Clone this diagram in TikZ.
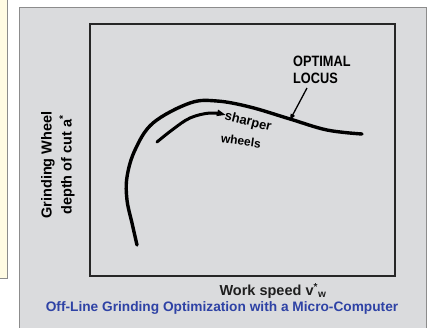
\documentclass[tikz,border=0pt]{standalone}
\usepackage{fontspec}
\setmainfont{Liberation Sans}
\usetikzlibrary{arrows.meta}
\definecolor{panelgray}{HTML}{DADBDD}
\definecolor{paneledge}{HTML}{8C8C8C}
\definecolor{notepad}{HTML}{FFFBE3}
\definecolor{captionblue}{HTML}{2E42A5}
\begin{document}
\begin{tikzpicture}[x=1pt,y=-1pt,
  axislabel/.style={font=\bfseries\fontsize{14.5}{17}\selectfont, inner sep=0pt},
  handtext/.style={font=\bfseries\fontsize{13}{15}\selectfont, inner sep=0pt},
  curve/.style={line width=3.4pt, line cap=round, line join=round},
]
\useasboundingbox (0,0) rectangle (431,327);
\clip (0,0) rectangle (431,327);
\fill[white] (0,0) rectangle (431,327);
% side note panel and slide panel
\draw[paneledge, fill=notepad, line width=0.8pt] (-10,-10) rectangle (7,278);
\draw[paneledge, fill=panelgray, line width=0.8pt] (19,7) rectangle (426,340);
% plot frame
\draw[line width=1.4pt, black!85] (90,24) rectangle (395,276);

% axis labels and caption
\node[axislabel, rotate=90] (ylabA) at (48,165) {Grinding Wheel};
\node[axislabel, rotate=90] (ylabB) at (67,165) {depth of cut a\textsuperscript{*}};
\node[axislabel, text=black!88] (xlab) at (273,291) {Work speed v\textsuperscript{*}\textsubscript{w}};
\node[axislabel, text=captionblue, font=\bfseries\fontsize{13.7}{16}\selectfont] (caption) at (222,308)
  {Off-Line Grinding Optimization with a Micro-Computer};

% optimal locus curve
\draw[curve] plot[smooth, tension=0.6] coordinates {(137,245) (132,223) (127,200) (127,177) (135,150)
  (153,123) (190,103) (217,101) (250,107) (290,119) (327,130) (362,134)};

% labels on the curves
\node[handtext, font=\bfseries\fontsize{15}{17}\selectfont, align=left, anchor=north west,
  xscale=0.85, transform shape] (locus) at (293,56) {OPTIMAL\\LOCUS};
\node[handtext, rotate=-14] (sharper) at (248,122) {sharper};
\node[handtext, font=\bfseries\fontsize{12}{14}\selectfont, rotate=-8] (wheels) at (241,141) {wheels};

% sharper wheels trend
\coordinate (sharptip) at (226,115);
\draw[curve, line width=3pt, -{Triangle[length=9pt,width=6pt]}] plot[smooth, tension=0.6]
  coordinates {(157,142) (172,130) (190,118) (210,113) (sharptip)};

% pointer to the optimal locus
\coordinate (locustail) at (307,88);
\coordinate (locushead) at (290,120);
\draw[line width=1.3pt, -{Triangle[length=6pt,width=4.5pt]}] (locustail) -- (locushead);
\end{tikzpicture}
\end{document}
